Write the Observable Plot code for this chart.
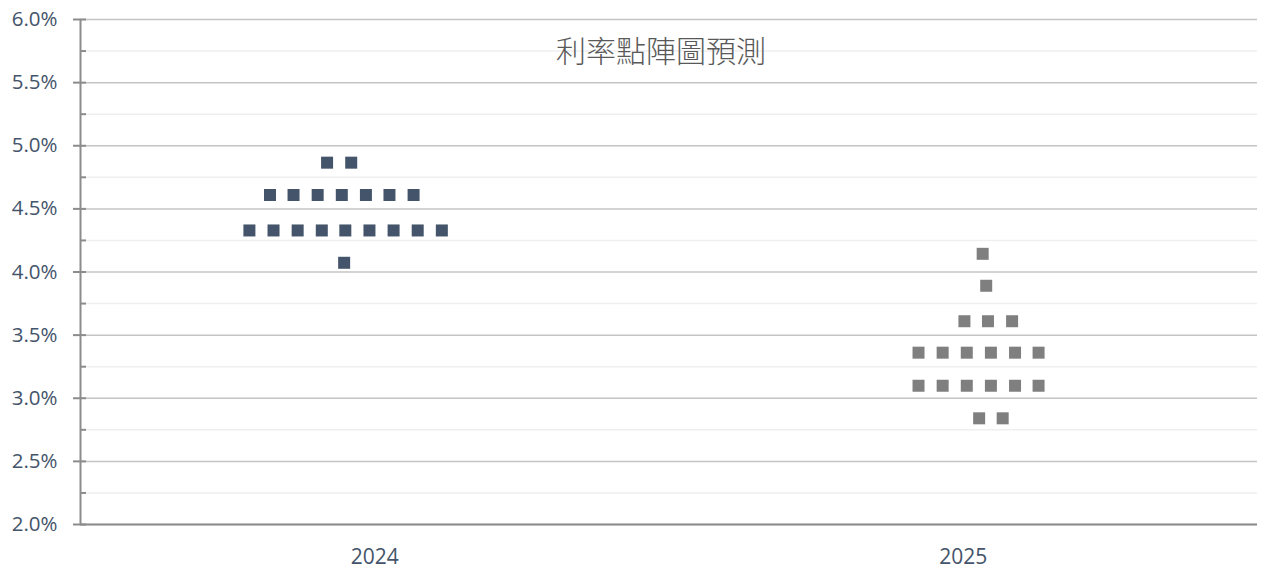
<!DOCTYPE html>
<html>
<head>
<meta charset="utf-8">
<script src="https://cdn.jsdelivr.net/npm/d3@7"></script>
<script src="https://cdn.jsdelivr.net/npm/@observablehq/plot@0.6"></script>
<style>
  html, body { margin: 0; padding: 0; background: #ffffff; }
  #chart { width: 1263px; height: 568px; }
</style>
</head>
<body>
<div id="chart"></div>
<script>
// ---- data ----
const title = "利率點陣圖預測";
const years = [2024, 2025];
const yMajorTicks = [2.0, 2.5, 3.0, 3.5, 4.0, 4.5, 5.0, 5.5, 6.0];
const yMinorTicks = [2.25, 2.75, 3.25, 3.75, 4.25, 4.75, 5.25, 5.75];

// 2024 dots: x position (in year units, as in the source scatter) and rate (%)
const x2024 = [
  2023.919, 2023.960,
  2023.822, 2023.862, 2023.903, 2023.944, 2023.985, 2024.025, 2024.066,
  2023.787, 2023.828, 2023.869, 2023.910, 2023.950, 2023.991, 2024.032, 2024.073, 2024.114,
  2023.948
];
const rate2024 = [
  4.866, 4.866,
  4.610, 4.610, 4.610, 4.610, 4.610, 4.610, 4.610,
  4.329, 4.329, 4.329, 4.329, 4.329, 4.329, 4.329, 4.329, 4.329,
  4.073
];

// 2025 dots
const x2025 = [
  2025.033,
  2025.039,
  2025.002, 2025.042, 2025.083,
  2024.924, 2024.965, 2025.006, 2025.047, 2025.088, 2025.128,
  2024.924, 2024.965, 2025.006, 2025.047, 2025.088, 2025.128,
  2025.027, 2025.067
];
const rate2025 = [
  4.144,
  3.891,
  3.610, 3.610, 3.610,
  3.361, 3.361, 3.361, 3.361, 3.361, 3.361,
  3.099, 3.099, 3.099, 3.099, 3.099, 3.099,
  2.841, 2.841
];

// ---- build tables ----
const dots = [
  ...x2024.map((x, i) => ({x, rate: rate2024[i], year: 2024})),
  ...x2025.map((x, i) => ({x, rate: rate2025[i], year: 2025}))
];

const W = 1263, H = 568;
const mL = 80, mR = 6, mT = 19, mB = 44;
const plotW = W - mL - mR;
const xDomain = [2023.5, 2025.5];
const axisGrey = "#8c8c8c";
const labelColor = "#44546a";

const chart = Plot.plot({
  width: W,
  height: H,
  marginLeft: mL,
  marginRight: mR,
  marginTop: mT,
  marginBottom: mB,
  style: { fontFamily: "'Open Sans', 'Noto Sans', sans-serif", background: "#ffffff", overflow: "visible" },
  x: { domain: xDomain, axis: null, label: null },
  y: { domain: [2, 6], axis: null, label: null },
  color: { domain: years, range: ["#44546a", "#7f7f7f"] },
  marks: [
    Plot.gridY(yMinorTicks, { stroke: "#efefef", strokeOpacity: 1, strokeWidth: 1.5 }),
    Plot.gridY(yMajorTicks, { stroke: "#c4c4c4", strokeOpacity: 1, strokeWidth: 1.5 }),
    Plot.tickY(yMinorTicks, { stroke: axisGrey, strokeWidth: 2, insetLeft: 0, insetRight: plotW - 6 }),
    Plot.tickY(yMajorTicks, { stroke: axisGrey, strokeWidth: 2, insetLeft: -7, insetRight: plotW - 6 }),
    Plot.ruleX([xDomain[0]], { stroke: axisGrey, strokeWidth: 2 }),
    Plot.ruleY([2], { stroke: axisGrey, strokeWidth: 2 }),
    Plot.axisY(yMajorTicks, {
      label: null,
      tickSize: 0, tickPadding: 23, fontSize: 20.5, color: labelColor,
      tickFormat: d => d.toFixed(1) + "%"
    }),
    Plot.axisX(years, {
      label: null,
      tickSize: 0, tickPadding: 25, fontSize: 21, color: labelColor,
      tickFormat: d => String(d)
    }),
    Plot.dot(dots, {
      x: "x", y: "rate", fill: "year", symbol: "square",
      r: 12 / Math.sqrt(Math.PI), stroke: null
    }),
    Plot.text([title], {
      frameAnchor: "top", dy: 21, dx: -8,
      fontSize: 30, fill: "#595959", fontWeight: 300,
      fontFamily: "'Noto Sans CJK TC', 'Noto Sans CJK SC', sans-serif"
    })
  ]
});

document.getElementById("chart").appendChild(chart);
</script>
</body>
</html>
